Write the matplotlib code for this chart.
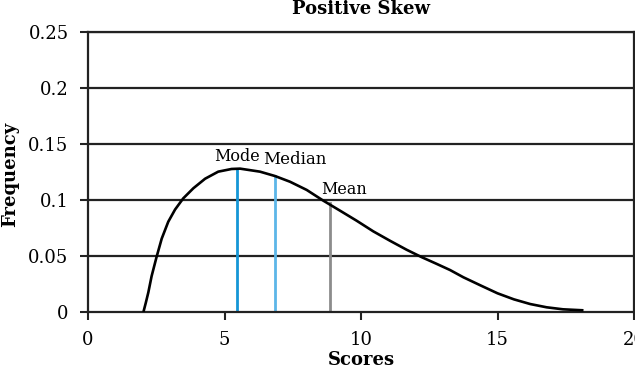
import matplotlib
matplotlib.use("Agg")
import matplotlib.pyplot as plt

# Curve points
scores = [2.03, 2.12, 2.21, 2.33, 2.51, 2.70, 2.94, 3.19, 3.49, 3.86, 4.29,
          4.77, 5.26, 5.57, 6.30, 6.85, 7.40, 8.01, 8.62, 9.23, 9.84, 10.45,
          11.07, 11.67, 12.22, 12.75, 13.26, 13.75, 14.4, 15.0, 15.6, 16.2,
          16.8, 17.4, 18.15]
freq = [0.0, 0.0085, 0.0175, 0.0320, 0.049, 0.0655, 0.0806, 0.0915, 0.1015,
        0.1105, 0.119, 0.1253, 0.1277, 0.1280, 0.1253, 0.1214, 0.1163, 0.109,
        0.0994, 0.0905, 0.0815, 0.0720, 0.0635, 0.0556, 0.0490, 0.0432, 0.0375,
        0.031, 0.0235, 0.0167, 0.0113, 0.0071, 0.0042, 0.0024, 0.0015]

stat_names = ["Mode", "Median", "Mean"]
stat_x = [5.47, 6.85, 8.86]
stat_y = [0.1280, 0.1214, 0.097]
stat_colors = ["#1596d6", "#5cb6e8", "#8c8c8c"]

xticks = [0, 5, 10, 15, 20]
yticks = [0, 0.05, 0.1, 0.15, 0.2, 0.25]
ytick_labels = ["0", "0.05", "0.1", "0.15", "0.2", "0.25"]

plt.rcParams['font.family'] = ['DejaVu Serif']

fig = plt.figure(figsize=(6.35, 3.70), dpi=100)
ax = fig.add_axes([88/635, 1-312/370, (634-88)/635, (312-32)/370])

ax.set_xlim(0, 20)
ax.set_ylim(0, 0.25)

for yv in yticks[1:]:
    ax.axhline(yv, color="#222222", lw=1.6, zorder=1)

for name, xv, yv, c in zip(stat_names, stat_x, stat_y, stat_colors):
    ax.plot([xv, xv], [0, yv], color=c, lw=2.0, zorder=2)

ax.plot(scores, freq, color="black", lw=1.9, zorder=3,
        solid_joinstyle='round', solid_capstyle='butt')

ax.text(5.47, 0.1315, "Mode", ha="center", va="bottom", fontsize=11.5)
ax.text(6.4, 0.1285, "Median", ha="left", va="bottom", fontsize=12)
ax.text(8.55, 0.1015, "Mean", ha="left", va="bottom", fontsize=11.5)

ax.set_xticks(xticks)
ax.set_xticklabels([str(t) for t in xticks])
ax.set_yticks(yticks)
ax.set_yticklabels(ytick_labels)
ax.tick_params(axis="both", labelsize=13, length=6, width=1.5, direction="out",
               color="#222222")
ax.tick_params(axis="y", pad=8)
ax.tick_params(axis="x", pad=8)

for s in ax.spines.values():
    s.set_linewidth(1.6)
    s.set_color("#222222")

ax.set_title("Positive Skew", fontsize=13, fontweight="bold", pad=13)
ax.set_xlabel("Scores", fontsize=13, fontweight="bold", labelpad=1)
ax.set_ylabel("Frequency", fontsize=13, fontweight="bold")
ax.yaxis.set_label_coords((19 - 88) / 546, 0.493)

fig.savefig("out.png", dpi=100)
